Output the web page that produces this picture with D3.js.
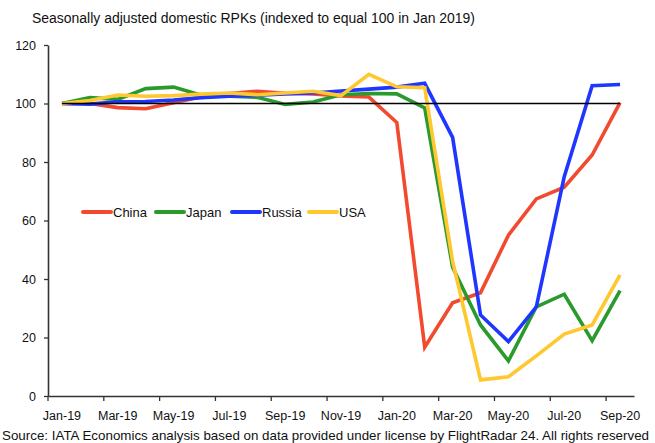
<!DOCTYPE html>
<html>
<head>
<meta charset="utf-8">
<script src="https://cdn.jsdelivr.net/npm/d3@7"></script>
<style>
  html, body { margin: 0; padding: 0; background: #fff; }
  svg { display: block; font-family: "Liberation Sans", Arial, sans-serif; }
</style>
</head>
<body>
<svg id="chart" width="655" height="443"></svg>
<script>
// Monthly categories, Jan 2019 to Sep 2020
const months = ["Jan-19","Feb-19","Mar-19","Apr-19","May-19","Jun-19","Jul-19","Aug-19","Sep-19","Oct-19","Nov-19","Dec-19",
                "Jan-20","Feb-20","Mar-20","Apr-20","May-20","Jun-20","Jul-20","Aug-20","Sep-20"];

// Seasonally adjusted domestic RPKs, index Jan 2019 = 100
const china  = [100, 100, 98.6, 98.2, 100.3, 102.3, 103.4, 104.2, 103.5, 103.3, 102.6, 102.2, 93.5, 16.7, 31.9, 35.3, 55, 67.4, 71.4, 82.4, 100.3];
const japan  = [100, 102, 101.4, 105.1, 105.6, 102.8, 102.5, 102.1, 99.7, 100.5, 103, 103.4, 103.3, 98.5, 44, 24.3, 12, 30.5, 34.8, 18.9, 36];
const russia = [100, 99.8, 100.6, 100.7, 101.2, 102, 102.5, 102.8, 103.3, 103.6, 104.3, 104.9, 105.6, 106.9, 88.4, 27.7, 18.6, 30.5, 75, 106.1, 106.5];
const usa    = [100, 101, 102.9, 102.5, 102.7, 103.2, 103.6, 103, 103.6, 104.2, 102.7, 110, 105.7, 105.4, 46, 5.5, 6.6, 13.7, 21.2, 24.3, 41.4];

const seriesNames  = ["China", "Japan", "Russia", "USA"];
const seriesValues = [china, japan, russia, usa];
const seriesColors = ["#F24A2E", "#2A9A2C", "#1F36FF", "#FFC830"];

const yTicks = [0, 20, 40, 60, 80, 100, 120];
const baseline = 100;

const titleText  = "Seasonally adjusted domestic RPKs (indexed to equal 100 in Jan 2019)";
const sourceText = "Source: IATA Economics analysis based on data provided under license by FlightRadar 24. All rights reserved";

const svg = d3.select("#chart");

const x = d3.scaleBand().domain(months).range([48, 634]).padding(0);
const bw = x.bandwidth();
const cx = m => x(m) + bw / 2;
const y = d3.scaleLinear().domain([0, 120]).range([396, 45]);

// Title
svg.append("text")
  .attr("x", 32).attr("y", 23)
  .attr("font-size", 14).attr("fill", "#111")
  .attr("textLength", 443).attr("lengthAdjust", "spacingAndGlyphs")
  .text(titleText);

// Source line
svg.append("text")
  .attr("x", 2).attr("y", 440)
  .attr("font-size", 13.5).attr("fill", "#111")
  .attr("textLength", 647).attr("lengthAdjust", "spacingAndGlyphs")
  .text(sourceText);

// Y axis
const yAxis = svg.append("g")
  .attr("transform", "translate(48,0)")
  .call(d3.axisLeft(y).tickValues(yTicks).tickSize(4).tickSizeOuter(0).tickPadding(8));
yAxis.select(".domain").attr("stroke", "#333").attr("stroke-width", 1.6);
yAxis.selectAll(".tick line").attr("stroke", "#333").attr("stroke-width", 1.3);
yAxis.selectAll(".tick text").attr("font-size", 12.5).attr("fill", "#111")
  .attr("font-family", "Liberation Sans, Arial, sans-serif");

// X axis: tick marks between categories, labels every other month
const labelMonths = months.filter((m, i) => i % 2 === 0);
const xAxis = svg.append("g")
  .attr("transform", "translate(0,396)")
  .call(d3.axisBottom(x).tickValues(labelMonths).tickSize(5).tickSizeOuter(0).tickPadding(10));
xAxis.select(".domain").attr("stroke", "#333").attr("stroke-width", 1.6);
xAxis.selectAll(".tick line")
  .attr("x1", -bw / 2).attr("x2", -bw / 2)
  .attr("stroke", "#333").attr("stroke-width", 1.3);
xAxis.selectAll(".tick text").attr("font-size", 12.5).attr("fill", "#111")
  .attr("font-family", "Liberation Sans, Arial, sans-serif");

// Country lines
const line = d3.line()
  .x((d, i) => cx(months[i]))
  .y(d => y(d));

svg.append("g").selectAll("path")
  .data(seriesValues)
  .join("path")
  .attr("d", d => line(d))
  .attr("fill", "none")
  .attr("stroke", (d, i) => seriesColors[i])
  .attr("stroke-width", 3.6)
  .attr("stroke-linejoin", "miter")
  .attr("stroke-linecap", "butt");

// Reference line at 100
svg.append("line")
  .attr("x1", cx(months[0])).attr("x2", cx(months[months.length - 1]))
  .attr("y1", y(baseline)).attr("y2", y(baseline))
  .attr("stroke", "#000").attr("stroke-width", 1.4);

// Legend
const legendX = [83, 156, 232, 309];
const legend = svg.append("g").selectAll("g")
  .data(seriesNames)
  .join("g")
  .attr("transform", (d, i) => `translate(${legendX[i]},212)`);
legend.append("line")
  .attr("x1", 0).attr("x2", 28).attr("y1", 0).attr("y2", 0)
  .attr("stroke", (d, i) => seriesColors[i])
  .attr("stroke-width", 4).attr("stroke-linecap", "round");
legend.append("text")
  .attr("x", 30).attr("y", 4.5)
  .attr("font-size", 13).attr("fill", "#111")
  .text(d => d);
</script>
</body>
</html>
